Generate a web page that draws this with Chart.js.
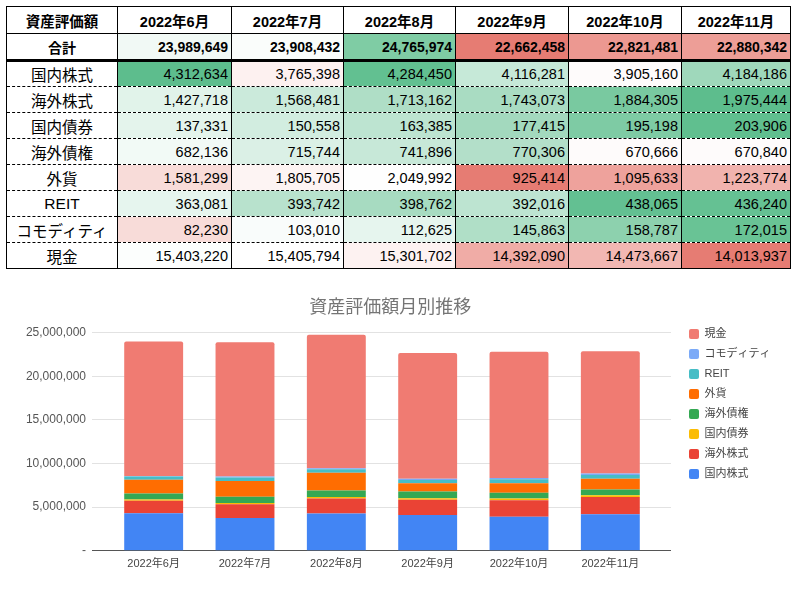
<!DOCTYPE html>
<html lang="ja">
<head>
<meta charset="utf-8">
<title>資産評価額月別推移</title>
<script src="https://cdn.jsdelivr.net/npm/chart.js@4.4.1/dist/chart.umd.min.js"></script>
<style>
  html, body { margin: 0; padding: 0; background: #fff; }
  body { width: 797px; height: 593px; position: relative; overflow: hidden;
         font-family: "Liberation Sans", "Noto Sans CJK JP", sans-serif; }
  #summary { position: absolute; left: 6px; top: 6px; border-collapse: collapse;
             table-layout: fixed; border: 1px solid #000; color: #000; }
  #summary th, #summary td { border-left: 1px solid #000; border-right: 1px solid #000;
             padding: 0 3px; white-space: nowrap; overflow: hidden; box-sizing: border-box; }
  #summary thead th { height: 27px; font-size: 14.5px; font-weight: bold; text-align: center;
             border-bottom: 1px solid #000; }
  #summary tbody td { height: 26px; font-size: 14.5px; text-align: right; border-bottom: 1px dashed #000; }
  #summary tr.total td { height: 27px; font-weight: bold; font-size: 14px; border-bottom: 3px solid #000; }
  #summary td.label { text-align: center; font-size: 15.5px; }
  #chart-box { position: absolute; left: 0; top: 276px; width: 797px; height: 317px; }
</style>
</head>
<body>
<table id="summary"></table>
<div id="chart-box"><canvas id="chart"></canvas></div>
<script>
  "use strict";

  // Data
  const months = ["2022年6月", "2022年7月", "2022年8月", "2022年9月", "2022年10月", "2022年11月"];
  const assetClasses = ["国内株式", "海外株式", "国内債券", "海外債権", "外貨", "REIT", "コモディティ", "現金"];
  const domesticStocks = [4312634, 3765398, 4284450, 4116281, 3905160, 4184186];
  const foreignStocks = [1427718, 1568481, 1713162, 1743073, 1884305, 1975444];
  const domesticBonds = [137331, 150558, 163385, 177415, 195198, 203906];
  const foreignBonds = [682136, 715744, 741896, 770306, 670666, 670840];
  const foreignCurrency = [1581299, 1805705, 2049992, 925414, 1095633, 1223774];
  const reit = [363081, 393742, 398762, 392016, 438065, 436240];
  const commodity = [82230, 103010, 112625, 145863, 158787, 172015];
  const cash = [15403220, 15405794, 15301702, 14392090, 14473667, 14013937];
  const totals = [23989649, 23908432, 24765974, 22662458, 22821481, 22880342];
  const yTicks = [0, 5000000, 10000000, 15000000, 20000000, 25000000];

  const seriesValues = [domesticStocks, foreignStocks, domesticBonds, foreignBonds,
                        foreignCurrency, reit, commodity, cash];
  const seriesColors = ["#4285f4", "#ea4335", "#fbbc04", "#34a853",
                        "#ff6d01", "#46bdc6", "#7baaf7", "#f07b72"];

  // Table cell shading (conditional formatting look)
  const totalShades = ["#f1f9f5", "#fafdfb", "#7fcca4", "#e67c73", "#ec9891", "#ed9e97"];
  const rowShades = [
    ["#5dbd8d", "#fdf1f0", "#62c091", "#c6e9d8", "#fefbfb", "#9fd8bb"],
    ["#e1f3ea", "#cbeadb", "#afdec6", "#a9dcc2", "#79c9a0", "#5dbd8d"],
    ["#e4f4ec", "#d2ede0", "#bde4d1", "#a3d9be", "#7ecba4", "#60bf8f"],
    ["#f2faf6", "#dbf0e6", "#c7e8d8", "#b3dfc9", "#fefbfb", "#fefbfb"],
    ["#f8dcd9", "#fdf4f3", "#fefefe", "#e67c73", "#eea29c", "#f1b3ae"],
    ["#e6f5ee", "#b8e2cd", "#a7dbc1", "#bde4d1", "#63c092", "#65c193"],
    ["#f8dcd9", "#f9fcfb", "#e6f5ee", "#b0dfc7", "#8dd1ae", "#69c395"],
    ["#fcfefd", "#ffffff", "#fdf2f1", "#f0aca6", "#f2b7b2", "#e67c73"]
  ];

  const colWidths = [111, 114, 112, 112, 113, 113, 109];
  const fmt = (v) => v.toLocaleString("en-US");

  // Build table
  const table = document.getElementById("summary");
  let html = "<colgroup>" + colWidths.map((w) => '<col style="width:' + w + 'px">').join("") + "</colgroup>";
  html += "<thead><tr><th>資産評価額</th>" + months.map((m) => "<th>" + m + "</th>").join("") + "</tr></thead><tbody>";
  html += '<tr class="total"><td class="label">合計</td>' +
    totals.map((v, i) => '<td style="background:' + totalShades[i] + '">' + fmt(v) + "</td>").join("") + "</tr>";
  assetClasses.forEach(function (name, r) {
    html += '<tr><td class="label">' + name + "</td>" +
      seriesValues[r].map((v, i) => '<td style="background:' + rowShades[r][i] + '">' + fmt(v) + "</td>").join("") + "</tr>";
  });
  html += "</tbody>";
  table.innerHTML = html;

  // Chart
  Chart.defaults.font.family = '"Liberation Sans", "Noto Sans CJK JP", sans-serif';
  Chart.defaults.color = "#555";

  const gridColor = (c) => (c.tick && c.tick.value === 0 ? "#555" : "#e2e2e2");

  new Chart(document.getElementById("chart"), {
    type: "bar",
    data: {
      labels: months,
      datasets: assetClasses.map(function (name, i) {
        return {
          label: name,
          data: seriesValues[i],
          backgroundColor: seriesColors[i],
          borderWidth: 0,
          borderRadius: i === assetClasses.length - 1 ? { topLeft: 2, topRight: 2 } : 0,
          borderSkipped: false,
          barPercentage: 0.645,
          categoryPercentage: 1,
        };
      }),
    },
    options: {
      responsive: true,
      maintainAspectRatio: false,
      animation: false,
      layout: { padding: { left: 0, right: 16.5, top: 0, bottom: 15 } },
      scales: {
        x: {
          stacked: true,
          grid: { display: false, drawTicks: false },
          border: { display: false },
          ticks: { color: "#444", font: { size: 11 }, padding: 7, maxRotation: 0 },
        },
        y: {
          stacked: true,
          min: 0,
          max: 26500000,
          afterFit: function (axis) { axis.width = 108; },
          afterBuildTicks: function (axis) { axis.ticks = yTicks.map((v) => ({ value: v })); },
          grid: { color: gridColor, tickLength: 16 },
          border: { display: false },
          ticks: {
            color: "#555",
            font: { size: 12 },
            padding: 6,
            callback: (v) => (v === 0 ? "-" : fmt(v)),
          },
        },
        y2: {
          position: "right",
          min: 0,
          max: 26500000,
          afterFit: function (axis) { axis.width = 24; },
          afterBuildTicks: function (axis) { axis.ticks = yTicks.map((v) => ({ value: v })); },
          grid: { color: gridColor, tickLength: 15 },
          border: { display: false },
          ticks: { display: false },
        },
      },
      plugins: {
        title: {
          display: true,
          text: "資産評価額月別推移",
          color: "#757575",
          font: { size: 18, weight: "normal" },
          padding: { top: 21, bottom: 1 },
        },
        legend: {
          position: "right",
          align: "start",
          fullSize: false,
          reverse: true,
          labels: {
            boxWidth: 10,
            boxHeight: 10,
            padding: 9,
            color: "#444",
            font: { size: 11 },
            useBorderRadius: true,
            borderRadius: 2,
          },
        },
      },
    },
  });
</script>
</body>
</html>
